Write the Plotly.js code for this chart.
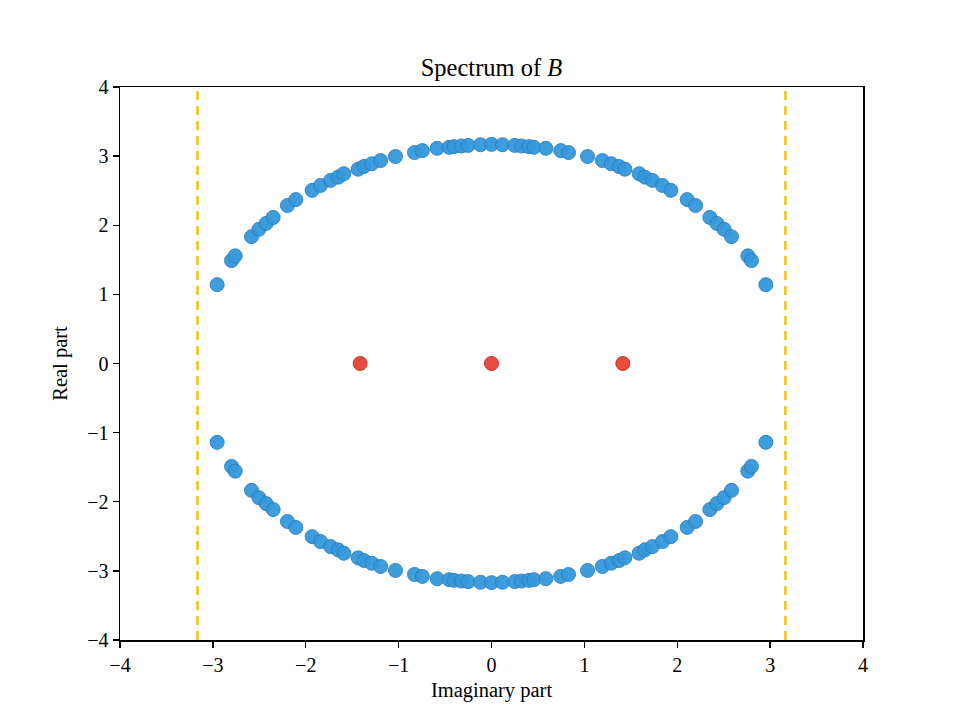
<!DOCTYPE html>
<html>
<head>
<meta charset="utf-8">
<script src="https://cdn.plot.ly/plotly-3.0.1.min.js"></script>
<style>html,body{margin:0;padding:0;background:#fff;}#chart{width:960px;height:720px;}</style>
</head>
<body>
<div id="chart"></div>
<script>
// Eigenvalues (imaginary part on x, real part on y)
const blueImag = [-2.954, -2.799, -2.760, -2.584, -2.505, -2.426, -2.351, -2.197, -2.107, -1.931, -1.841, -1.732, -1.651, -1.590, -1.436, -1.374, -1.289, -1.194, -1.034, -0.829, -0.745, -0.585, -0.456, -0.404, -0.323, -0.251, -0.118, 0.000, 0.118, 0.251, 0.323, 0.404, 0.456, 0.585, 0.745, 0.829, 1.034, 1.194, 1.289, 1.374, 1.436, 1.590, 1.651, 1.732, 1.841, 1.931, 2.107, 2.197, 2.351, 2.426, 2.505, 2.584, 2.760, 2.799, 2.954];
const blueRealUpper = [1.140, 1.489, 1.557, 1.835, 1.941, 2.027, 2.113, 2.286, 2.371, 2.505, 2.576, 2.649, 2.696, 2.745, 2.811, 2.850, 2.889, 2.936, 2.994, 3.052, 3.080, 3.113, 3.128, 3.137, 3.147, 3.155, 3.165, 3.170, 3.165, 3.155, 3.147, 3.137, 3.128, 3.113, 3.080, 3.052, 2.994, 2.936, 2.889, 2.850, 2.811, 2.745, 2.696, 2.649, 2.576, 2.505, 2.371, 2.286, 2.113, 2.027, 1.941, 1.835, 1.557, 1.489, 1.140];
const blueRealLower = [-1.140, -1.489, -1.557, -1.835, -1.941, -2.027, -2.113, -2.286, -2.371, -2.505, -2.576, -2.649, -2.696, -2.745, -2.811, -2.850, -2.889, -2.936, -2.994, -3.052, -3.080, -3.113, -3.128, -3.137, -3.147, -3.155, -3.165, -3.170, -3.165, -3.155, -3.147, -3.137, -3.128, -3.113, -3.080, -3.052, -2.994, -2.936, -2.889, -2.850, -2.811, -2.745, -2.696, -2.649, -2.576, -2.505, -2.371, -2.286, -2.113, -2.027, -1.941, -1.835, -1.557, -1.489, -1.140];
const redImag = [-1.414, 0.0, 1.414];
const redReal = [0.0, 0.0, 0.0];
const boundImag = [-3.165, 3.165];
const axisRange = [-4, 4];
const tickVals = [-4, -3, -2, -1, 0, 1, 2, 3, 4];
const tickText = ['\u22124', '\u22123', '\u22122', '\u22121', '0', '1', '2', '3', '4'];

const blueMarker = {size: 14, color: '#3498db', line: {color: '#2a7fc0', width: 1}, opacity: 0.95};
const traces = [
  {x: blueImag, y: blueRealUpper, mode: 'markers', type: 'scatter', marker: blueMarker, hoverinfo: 'x+y'},
  {x: blueImag, y: blueRealLower, mode: 'markers', type: 'scatter', marker: blueMarker, hoverinfo: 'x+y'},
  {x: redImag, y: redReal, mode: 'markers', type: 'scatter', marker: {size: 14, color: '#e74c3c', line: {color: '#c0392b', width: 1}}}
];
boundImag.forEach(v => {
  traces.push({x: [v, v], y: axisRange, mode: 'lines', type: 'scatter',
    line: {color: '#f1c40f', width: 2.5, dash: '9px,6px'}, hoverinfo: 'skip'});
});

const fontFam = '"Liberation Serif", "Times New Roman", serif';
const axisCommon = {
  range: axisRange, tickvals: tickVals, ticktext: tickText,
  showgrid: false, zeroline: false, showline: true, mirror: true,
  linecolor: '#000', linewidth: 1.5, ticks: 'outside', ticklen: 6, tickwidth: 1.3, tickcolor: '#000',
  tickfont: {family: fontFam, size: 20, color: '#000'}
};
const layout = {
  width: 960, height: 720,
  margin: {l: 120, r: 97, t: 87, b: 80},
  paper_bgcolor: '#fff', plot_bgcolor: '#fff',
  showlegend: false,
  font: {family: fontFam, color: '#000'},
  title: {text: 'Spectrum of <i>B</i>', font: {family: fontFam, size: 24.5, color: '#000'}, xref: 'paper', x: 0.5, xanchor: 'center', y: 0.906, yanchor: 'middle'},
  xaxis: Object.assign({}, axisCommon, {title: {text: 'Imaginary part', font: {family: fontFam, size: 20.5, color: '#000'}, standoff: 8}}),
  yaxis: Object.assign({}, axisCommon, {title: {text: 'Real part', font: {family: fontFam, size: 20.5, color: '#000'}, standoff: 14}})
};
Plotly.newPlot('chart', traces, layout, {displayModeBar: false, staticPlot: true});
</script>
</body>
</html>
